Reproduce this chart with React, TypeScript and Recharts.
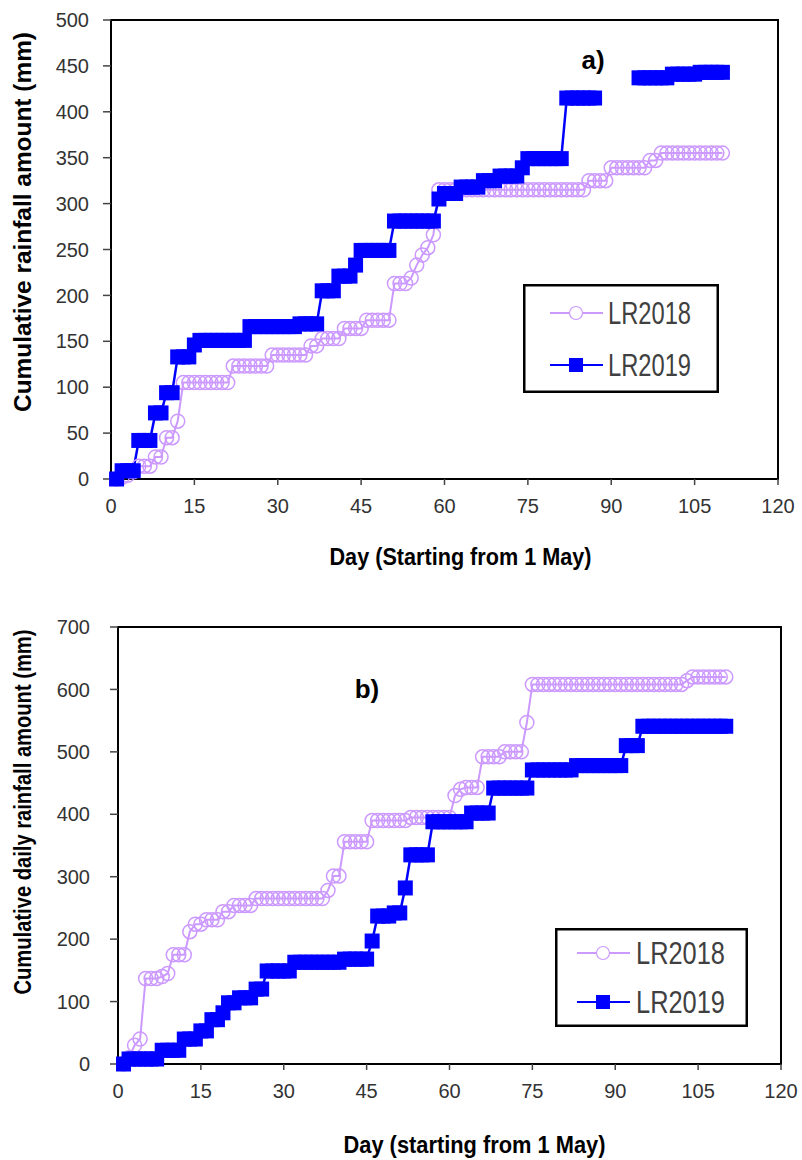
import React from 'react';
import {
  LineChart,
  Line,
  XAxis,
  YAxis,
  ReferenceArea,
  Legend,
  Label,
} from 'recharts';

// day index (1 May = day 1)
const days = [
  1, 2, 3, 4, 5, 6, 7, 8, 9, 10, 11, 12, 13, 14, 15, 16, 17, 18, 19, 20,
  21, 22, 23, 24, 25, 26, 27, 28, 29, 30, 31, 32, 33, 34, 35, 36, 37, 38, 39, 40,
  41, 42, 43, 44, 45, 46, 47, 48, 49, 50, 51, 52, 53, 54, 55, 56, 57, 58, 59, 60,
  61, 62, 63, 64, 65, 66, 67, 68, 69, 70, 71, 72, 73, 74, 75, 76, 77, 78, 79, 80,
  81, 82, 83, 84, 85, 86, 87, 88, 89, 90, 91, 92, 93, 94, 95, 96, 97, 98, 99, 100,
  101, 102, 103, 104, 105, 106, 107, 108, 109, 110,
];

// panel a) cumulative rainfall (mm)
const a2018 = [
  0, 2, 4, 8, 14, 14, 14, 24, 24, 45, 45, 63, 105, 105, 105, 105, 105, 105, 105, 105,
  105, 123, 123, 123, 123, 123, 123, 123, 135, 135, 135, 135, 135, 135, 135, 145, 145, 153, 153, 153,
  153, 164, 164, 164, 164, 173, 173, 173, 173, 173, 213, 213, 213, 219, 233, 244, 252, 266, 315, 315,
  315, 315, 315, 315, 315, 315, 315, 315, 315, 315, 315, 315, 315, 315, 315, 315, 315, 315, 315, 315,
  315, 315, 315, 315, 315, 325, 325, 325, 325, 339, 339, 339, 339, 339, 339, 339, 347, 347, 355, 355,
  355, 355, 355, 355, 355, 355, 355, 355, 355, 355,
];
const a2019 = [
  0, 9, 9, 9, 42, 42, 42, 72, 72, 94, 94, 133, 133, 133, 146, 151, 151, 151, 151, 151,
  151, 151, 151, 151, 166, 166, 166, 166, 166, 166, 166, 166, 166, 169, 169, 169, 169, 205, 205, 205,
  221, 221, 221, 233, 249, 249, 249, 249, 249, 249, 281, 281, 281, 281, 281, 281, 281, 281, 305, 311,
  311, 311, 318, 318, 318, 318, 325, 325, 325, 330, 330, 330, 330, 339, 349, 349, 349, 349, 349, 349,
  349, 415, 415, 415, 415, 415, 415, null, null, null, null, null, null, null, 437, 437, 437, 437, 437, 437,
  441, 441, 441, 441, 441, 443, 443, 443, 443, 443,
];

// panel b) cumulative daily rainfall (mm)
const b2018 = [
  0, 10, 30, 40, 137, 137, 137, 140, 145, 175, 175, 175, 212, 224, 224, 231, 231, 231, 244, 244,
  254, 254, 254, 254, 265, 265, 265, 265, 265, 265, 265, 265, 265, 265, 265, 265, 265, 278, 301, 301,
  356, 356, 356, 356, 356, 390, 390, 390, 390, 390, 390, 390, 395, 395, 395, 395, 395, 395, 395, 395,
  430, 440, 443, 443, 443, 492, 492, 492, 492, 500, 500, 500, 500, 547, 608, 608, 608, 608, 608, 608,
  608, 608, 608, 608, 608, 608, 608, 608, 608, 608, 608, 608, 608, 608, 608, 608, 608, 608, 608, 608,
  608, 608, 614, 620, 620, 620, 620, 620, 620, 620,
];
const b2019 = [
  0, 8, 8, 8, 8, 8, 8, 22, 22, 22, 22, 40, 40, 40, 53, 53, 71, 71, 82, 98,
  98, 106, 106, 106, 120, 120, 149, 149, 149, 149, 149, 163, 163, 163, 163, 163, 163, 163, 163, 163,
  168, 168, 168, 168, 168, 197, 237, 237, 237, 242, 242, 282, 335, 335, 335, 335, 388, 388, 388, 388,
  388, 388, 388, 402, 402, 402, 402, 442, 442, 442, 442, 442, 442, 442, 471, 471, 471, 471, 471, 471,
  471, 471, 478, 478, 478, 478, 478, 478, 478, 478, 478, 510, 510, 510, 541, 541, 541, 541, 541, 541,
  541, 541, 541, 541, 541, 541, 541, 541, 541, 541,
];

const xTicks = [0, 15, 30, 45, 60, 75, 90, 105, 120];
const aTicks = [0, 50, 100, 150, 200, 250, 300, 350, 400, 450, 500];
const bTicks = [0, 100, 200, 300, 400, 500, 600, 700];
const seriesNames = ['LR2018', 'LR2019'];

const C18 = '#CC99FF';
const C19 = '#0000FF';
const FONT = "'Liberation Sans', Arial, sans-serif";

const dataA = days.map((d, i) => ({ day: d, lr2018: a2018[i], lr2019: a2019[i] }));
const dataB = days.map((d, i) => ({ day: d, lr2018: b2018[i], lr2019: b2019[i] }));

const CircleDot = (p: any) => {
  if (p.cx == null || p.cy == null || p.value == null) return <g key={p.key} />;
  return <circle key={p.key} cx={p.cx} cy={p.cy} r={7} fill="none" stroke={C18} strokeWidth={1.5} />;
};
const SquareDot = (p: any) => {
  if (p.cx == null || p.cy == null || p.value == null) return <g key={p.key} />;
  return <rect key={p.key} x={p.cx - 7.5} y={p.cy - 7.5} width={15} height={15} fill={C19} />;
};

// boxed legend drawn inside the Legend wrapper
function makeLegend(w: number, h: number, rowY: number[], lineX: number, textX: number, textLen: number) {
  return () => (
    <svg width={w} height={h} style={{ display: 'block' }}>
      <rect x={1.25} y={1.25} width={w - 2.5} height={h - 2.5} fill="#fff" stroke="#000" strokeWidth={2.5} />
      {seriesNames.map((name, i) => (
        <g key={name}>
          <line x1={lineX} x2={lineX + 53} y1={rowY[i]} y2={rowY[i]} stroke={i === 0 ? C18 : C19} strokeWidth={2} />
          {i === 0 ? (
            <circle cx={lineX + 26} cy={rowY[i]} r={6.5} fill="#fff" stroke={C18} strokeWidth={1.2} />
          ) : (
            <rect x={lineX + 19} y={rowY[i] - 7} width={14} height={14} fill={C19} />
          )}
          <text
            x={textX}
            y={rowY[i]}
            dominantBaseline="central"
            textLength={textLen}
            lengthAdjust="spacingAndGlyphs"
            style={{ fontFamily: FONT, fontSize: 31, fill: '#404040' }}
          >
            {name}
          </text>
        </g>
      ))}
    </svg>
  );
}

const tickStyle = { fontFamily: FONT, fontSize: 20, fill: '#333' };
const titleStyle = { fontFamily: FONT, fontSize: 23, fontWeight: 'bold' as const, fill: '#000' };

interface PanelProps {
  data: any[];
  yMax: number;
  yTicks: number[];
  yTickMargin: number;
  height: number;
  margin: { top: number; right: number; bottom: number; left: number };
  xTitle: string;
  xTitleDx: number;
  xTitleY: number;
  xTitleLen: number;
  yTitle: string;
  yTitleY: number;
  yTitleLen: number;
  tag: string;
  tagX: number;
  tagY: number;
  legendBox: { left: number; top: number; width: number; height: number };
  legend: () => React.ReactNode;
}

function Panel(props: PanelProps) {
  const { data, yMax, yTicks, height, margin } = props;
  return (
    <LineChart width={802} height={height} data={data} margin={margin} style={{ fontFamily: FONT }}>
      <XAxis
        dataKey="day"
        type="number"
        domain={[0, 120]}
        ticks={xTicks}
        interval={0}
        height={40}
        tick={tickStyle}
        tickSize={6}
        tickMargin={14}
        axisLine={{ stroke: '#000', strokeWidth: 2 }}
        tickLine={{ stroke: '#444', strokeWidth: 1.5 }}
      >
        <Label
          content={({ viewBox }: any) => (
            <text
              x={viewBox.x + viewBox.width / 2 + props.xTitleDx}
              y={props.xTitleY}
              textAnchor="middle"
              dominantBaseline="central"
              textLength={props.xTitleLen}
              lengthAdjust="spacingAndGlyphs"
              style={titleStyle}
            >
              {props.xTitle}
            </text>
          )}
        />
      </XAxis>
      <YAxis
        type="number"
        domain={[0, yMax]}
        ticks={yTicks}
        interval={0}
        width={60}
        tick={tickStyle}
        tickSize={8}
        tickMargin={props.yTickMargin}
        axisLine={{ stroke: '#000', strokeWidth: 2 }}
        tickLine={{ stroke: '#444', strokeWidth: 1.5 }}
      >
        <Label
          content={() => {
            const cx = 23;
            const cy = props.yTitleY;
            return (
              <text
                x={cx}
                y={cy}
                textAnchor="middle"
                dominantBaseline="central"
                transform={`rotate(-90 ${cx} ${cy})`}
                textLength={props.yTitleLen}
                lengthAdjust="spacingAndGlyphs"
                style={titleStyle}
              >
                {props.yTitle}
              </text>
            );
          }}
        />
      </YAxis>
      <ReferenceArea x1={0} x2={120} y1={0} y2={yMax} fill="none" stroke="#000" strokeWidth={2} ifOverflow="visible">
        <Label
          content={() => (
            <text x={props.tagX} y={props.tagY} textAnchor="middle" dominantBaseline="central" style={{ ...titleStyle, fontSize: 26 }}>
              {props.tag}
            </text>
          )}
        />
      </ReferenceArea>
      <Legend
        layout="horizontal"
        verticalAlign="middle"
        align="center"
        content={props.legend}
        wrapperStyle={{ position: 'absolute', ...props.legendBox }}
      />
      <Line
        dataKey="lr2018"
        name="LR2018"
        type="linear"
        stroke={C18}
        strokeWidth={2}
        dot={CircleDot}
        activeDot={false}
        connectNulls={false}
        isAnimationActive={false}
      />
      <Line
        dataKey="lr2019"
        name="LR2019"
        type="linear"
        stroke={C19}
        strokeWidth={2.5}
        dot={SquareDot}
        activeDot={false}
        connectNulls={false}
        isAnimationActive={false}
      />
    </LineChart>
  );
}

export default function App() {
  return (
    <div style={{ position: 'absolute', left: 0, top: 0, width: 802, height: 1160, background: '#fff' }}>
      <div style={{ position: 'absolute', left: 0, top: 0 }}>
        <Panel
          data={dataA}
          yMax={500}
          yTicks={aTicks}
          yTickMargin={14}
          height={580}
          margin={{ top: 20, right: 24, bottom: 61, left: 51 }}
          xTitle="Day (Starting from 1 May)"
          xTitleDx={16}
          xTitleY={557}
          xTitleLen={262}
          yTitle="Cumulative rainfall amount (mm)"
          yTitleY={222}
          yTitleLen={380}
          tag="a)"
          tagX={593}
          tagY={60}
          legendBox={{ left: 523, top: 284, width: 196, height: 109 }}
          legend={makeLegend(196, 109, [29, 81], 27, 85, 83)}
        />
      </div>
      <div style={{ position: 'absolute', left: 0, top: 600 }}>
        <Panel
          data={dataB}
          yMax={700}
          yTicks={bTicks}
          yTickMargin={20}
          height={560}
          margin={{ top: 27, right: 21, bottom: 56, left: 58 }}
          xTitle="Day (starting from 1 May)"
          xTitleDx={25}
          xTitleY={545}
          xTitleLen={262}
          yTitle="Cumulative daily rainfall amount (mm)"
          yTitleY={212}
          yTitleLen={365}
          tag="b)"
          tagX={367}
          tagY={89}
          legendBox={{ left: 555, top: 328, width: 193, height: 99 }}
          legend={makeLegend(193, 99, [25, 74], 22, 81, 89)}
        />
      </div>
    </div>
  );
}
